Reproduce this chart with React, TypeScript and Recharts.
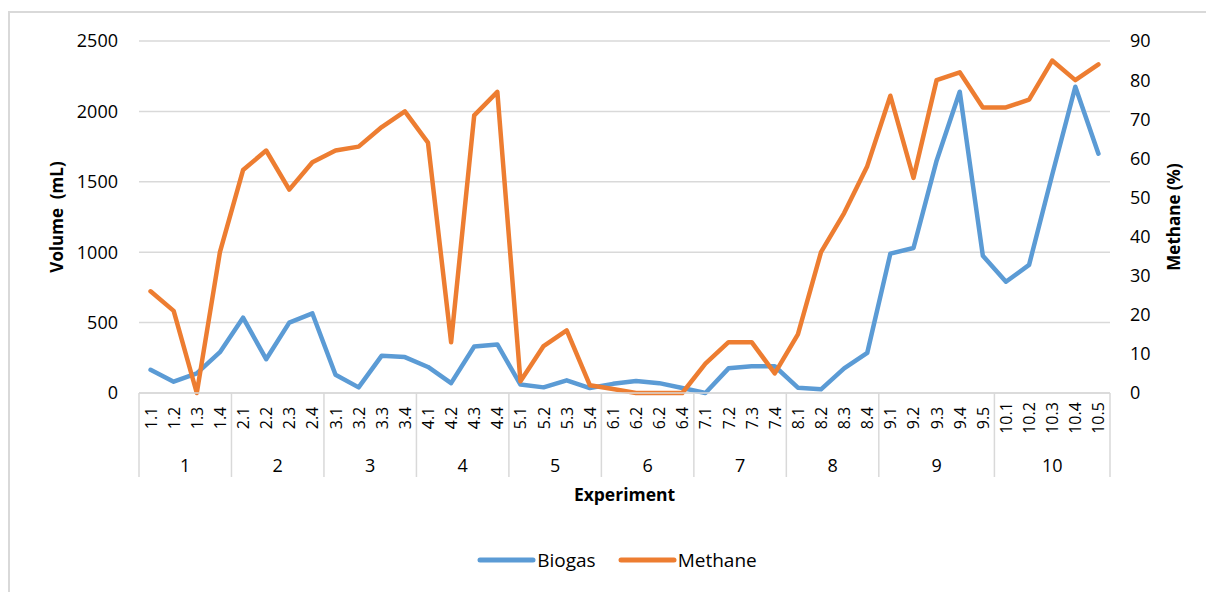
import { LineChart, Line, XAxis, YAxis, CartesianGrid, Legend } from 'recharts';

const categories = [
  '1.1', '1.2', '1.3', '1.4',
  '2.1', '2.2', '2.3', '2.4',
  '3.1', '3.2', '3.3', '3.4',
  '4.1', '4.2', '4.3', '4.4',
  '5.1', '5.2', '5.3', '5.4',
  '6.1', '6.2', '6.2', '6.4',
  '7.1', '7.2', '7.3', '7.4',
  '8.1', '8.2', '8.3', '8.4',
  '9.1', '9.2', '9.3', '9.4', '9.5',
  '10.1', '10.2', '10.3', '10.4', '10.5',
];

// biogas volume in mL (left axis)
const biogas = [
  165, 80, 140, 290,
  535, 240, 500, 565,
  130, 40, 265, 255,
  185, 70, 330, 345,
  60, 40, 90, 35,
  65, 85, 70, 35,
  0, 175, 190, 190,
  38, 26, 175, 285,
  990, 1030, 1650, 2140, 975,
  790, 910, 1550, 2175, 1700,
];

// methane content in % (right axis)
const methane = [
  26, 21, 0, 36,
  57, 62, 52, 59,
  62, 63, 68, 72,
  64, 13, 71, 77,
  3, 12, 16, 2,
  1, 0, 0, 0,
  7.5, 13, 13, 5,
  15, 36, 46, 58,
  76, 55, 80, 82, 73,
  73, 75, 85, 80, 84,
];

const volumeTicks = [0, 500, 1000, 1500, 2000, 2500];
const methaneTicks = [0, 10, 20, 30, 40, 50, 60, 70, 80, 90];

const data = categories.map((label, i) => ({
  label,
  group: label.split('.')[0],
  biogas: biogas[i],
  methane: methane[i],
}));

const W = 1206;
const H = 592;
const LEFT_W = 139;
const RIGHT_W = 96;
const BAND = (W - LEFT_W - RIGHT_W) / categories.length;
const FONT = "'Open Sans', sans-serif";
const GRID = '#d9d9d9';
const BLUE = '#5b9bd5';
const ORANGE = '#ed7d31';

const CategoryTick = (props: any) => {
  const { x, y, payload } = props;
  const i = payload.index;
  const g = data[i].group;
  const first = i === 0 || data[i - 1].group !== g;
  const last = i === data.length - 1;
  const size = data.filter(d => d.group === g).length;
  const ly = y + 25;
  return (
    <g>
      <text
        x={x}
        y={ly}
        transform={`rotate(-90, ${x}, ${ly})`}
        textAnchor="middle"
        dominantBaseline="central"
        fontSize={16}
        fontFamily={FONT}
        fill="#000"
      >
        {payload.value}
      </text>
      {first && (
        <>
          <line x1={x - BAND / 2} x2={x - BAND / 2} y1={y} y2={y + 84} stroke={GRID} strokeWidth={1.5} />
          <text
            x={x - BAND / 2 + (size * BAND) / 2}
            y={y + 72}
            textAnchor="middle"
            dominantBaseline="central"
            fontSize={18}
            fontFamily={FONT}
            fill="#000"
          >
            {g}
          </text>
        </>
      )}
      {last && (
        <line x1={x + BAND / 2} x2={x + BAND / 2} y1={y} y2={y + 84} stroke={GRID} strokeWidth={1.5} />
      )}
    </g>
  );
};

const renderLegend = () => (
  <div style={{ display: 'flex', justifyContent: 'center', paddingLeft: 28, fontFamily: FONT, fontSize: 19, color: '#000' }}>
    {[
      { name: 'Biogas', color: BLUE },
      { name: 'Methane', color: ORANGE },
    ].map(item => (
      <div key={item.name} style={{ display: 'flex', alignItems: 'center', margin: '0 11px' }}>
        <svg width={59} height={10} style={{ marginRight: 1 }}>
          <line x1={3} y1={5} x2={56} y2={5} stroke={item.color} strokeWidth={5} strokeLinecap="round" />
        </svg>
        <span>{item.name}</span>
      </div>
    ))}
  </div>
);

export default function App() {
  return (
    <div style={{ position: 'absolute', left: 0, top: 0, width: W, height: H, overflow: 'hidden', background: '#fff' }}>
      <div
        style={{
          position: 'absolute',
          left: 8,
          top: 11,
          width: W + 50,
          height: H + 50,
          border: `2px solid ${GRID}`,
          boxSizing: 'border-box',
        }}
      />
      <LineChart
        width={W}
        height={H}
        data={data}
        margin={{ top: 41, right: 0, bottom: 0, left: 0 }}
        style={{ position: 'absolute', left: 0, top: 0 }}
      >
        <CartesianGrid yAxisId="left" vertical={false} stroke={GRID} strokeWidth={1.5} />
        <XAxis
          dataKey="label"
          interval={0}
          height={199}
          padding={{ left: BAND / 2, right: BAND / 2 }}
          tickLine={false}
          tickSize={0}
          tickMargin={0}
          axisLine={{ stroke: GRID, strokeWidth: 1.5 }}
          tick={<CategoryTick />}
          label={({ viewBox }: any) => (
            <text
              x={viewBox.x + viewBox.width / 2}
              y={viewBox.y + 101}
              textAnchor="middle"
              dominantBaseline="central"
              fontSize={17.5}
              fontWeight="bold"
              fontFamily={FONT}
              fill="#000"
            >
              Experiment
            </text>
          )}
        />
        <YAxis
          yAxisId="left"
          width={LEFT_W}
          domain={[0, 2500]}
          ticks={volumeTicks}
          axisLine={false}
          tickLine={false}
          tickMargin={15}
          tick={{ fontSize: 18, fontFamily: FONT, fill: '#000' }}
          label={({ viewBox }: any) => {
            const cx = viewBox.x + 56;
            const cy = viewBox.y + viewBox.height / 2;
            return (
              <text
                x={cx}
                y={cy}
                transform={`rotate(-90, ${cx}, ${cy})`}
                textAnchor="middle"
                dominantBaseline="central"
                fontSize={17}
                fontWeight="bold"
                fontFamily={FONT}
                fill="#000"
              >
                {'Volume\u00a0 (mL)'}
              </text>
            );
          }}
        />
        <YAxis
          yAxisId="right"
          orientation="right"
          width={RIGHT_W}
          domain={[0, 90]}
          ticks={methaneTicks}
          axisLine={false}
          tickLine={false}
          tickMargin={14}
          tick={{ fontSize: 18, fontFamily: FONT, fill: '#000' }}
          label={({ viewBox }: any) => {
            const cx = viewBox.x + 63;
            const cy = viewBox.y + viewBox.height / 2;
            return (
              <text
                x={cx}
                y={cy}
                transform={`rotate(-90, ${cx}, ${cy})`}
                textAnchor="middle"
                dominantBaseline="central"
                fontSize={17}
                fontWeight="bold"
                fontFamily={FONT}
                fill="#000"
              >
                Methane (%)
              </text>
            );
          }}
        />
        <Legend
          layout="horizontal"
          verticalAlign="middle"
          align="center"
          content={renderLegend}
          wrapperStyle={{ top: 547, left: 0, width: W }}
        />
        <Line
          yAxisId="left"
          type="linear"
          dataKey="biogas"
          name="Biogas"
          stroke={BLUE}
          strokeWidth={4.5}
          strokeLinejoin="round"
          strokeLinecap="round"
          dot={false}
          isAnimationActive={false}
        />
        <Line
          yAxisId="right"
          type="linear"
          dataKey="methane"
          name="Methane"
          stroke={ORANGE}
          strokeWidth={4.5}
          strokeLinejoin="round"
          strokeLinecap="round"
          dot={false}
          isAnimationActive={false}
        />
      </LineChart>
    </div>
  );
}
